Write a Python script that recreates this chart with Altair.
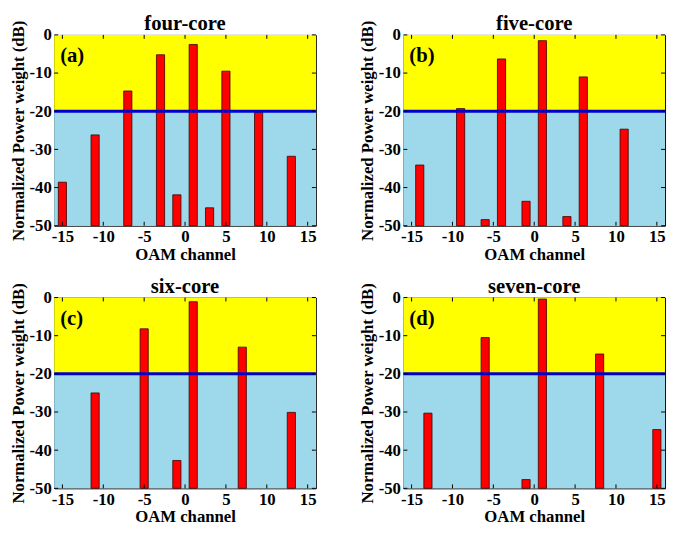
import altair as alt
import pandas as pd

# ---- data ----
titles = ["four-core", "five-core", "six-core", "seven-core"]
tags = ["(a)", "(b)", "(c)", "(d)"]
channels = [
    [-15, -11, -7, -3, -1, 1, 3, 5, 9, 13],
    [-14, -9, -6, -4, -1, 1, 4, 6, 11],
    [-11, -5, -1, 1, 7, 13],
    [-13, -6, -1, 1, 8, 15],
]
weights = [
    [-38.6, -26.2, -14.7, -5.2, -41.9, -2.5, -45.3, -9.5, -20.3, -31.8],
    [-34.1, -19.3, -48.4, -6.3, -43.6, -1.5, -47.6, -11.0, -24.7],
    [-25.0, -8.2, -42.7, -1.1, -13.0, -30.1],
    [-30.3, -10.5, -47.7, -0.4, -14.8, -34.6],
]
x_ticks = [-15, -10, -5, 0, 5, 10, 15]
y_ticks = [-50, -40, -30, -20, -10, 0]
x_limits = [-16, 16]
y_limits = [-50, 0]
threshold = -20
bar_half_width = 0.5

# ---- styling ----
W, H = 266, 194
FONT = "'Liberation Serif', 'Times New Roman', Times, serif"
YELLOW = "#FFFF00"
LIGHTBLUE = "#9DD9EA"
LINEBLUE = "#0000CC"
RED = "#FF0000"
TICK = 4

xs = alt.Scale(domain=x_limits, nice=False, zero=False)
ys = alt.Scale(domain=y_limits, nice=False, zero=False)
common_axis = dict(
    grid=False, ticks=False, domain=False, labelFlush=False, labelOverlap=False,
    labelFont=FONT, labelFontSize=17, labelFontWeight="bold", labelColor="black",
    labelPadding=3, format="d", labelSeparation=0,
    titleFont=FONT, titleFontSize=17, titleFontWeight="bold", titleColor="black",
    titlePadding=2,
)
xaxis = alt.Axis(values=x_ticks, title="OAM channel", **common_axis)
yaxis = alt.Axis(values=y_ticks, title="Normalized Power weight (dB)",
                 tickCount=len(y_ticks), **common_axis)


def xenc(field):
    return alt.X(field, type="quantitative", scale=xs, axis=xaxis)


def yenc(field):
    return alt.Y(field, type="quantitative", scale=ys, axis=yaxis)


def panel(i):
    bands = pd.DataFrame({
        "x0": [x_limits[0], x_limits[0]],
        "x1": [x_limits[1], x_limits[1]],
        "lo": [threshold, y_limits[0]],
        "hi": [y_limits[1], threshold],
        "zone": ["above", "below"],
    })
    bg = alt.Chart(bands).mark_rect().encode(
        x=xenc("x0"), x2="x1", y=yenc("lo"), y2="hi",
        color=alt.Color("zone:N", scale=alt.Scale(domain=["above", "below"],
                                                  range=[YELLOW, LIGHTBLUE]),
                        legend=None),
    )

    bars_df = pd.DataFrame({"ch": channels[i], "w": weights[i]})
    bars = alt.Chart(bars_df).transform_calculate(
        b0=f"datum.ch - {bar_half_width}",
        b1=f"datum.ch + {bar_half_width}",
        base=str(y_limits[0]),
    ).mark_bar(color=RED, stroke="#3a0000", strokeWidth=0.8).encode(
        x=xenc("b0"), x2="b1", y=yenc("w"), y2="base:Q",
    )

    line = alt.Chart(pd.DataFrame({"t": [threshold]})).mark_rule(
        color=LINEBLUE, strokeWidth=3
    ).encode(y=yenc("t"))

    xt = pd.DataFrame({"v": x_ticks})
    yt = pd.DataFrame({"v": y_ticks})
    tick_style = dict(color="black", strokeWidth=1)
    tb = alt.Chart(xt).mark_rule(**tick_style).encode(
        x=xenc("v"), y=alt.value(H), y2=alt.value(H - TICK))
    tt = alt.Chart(xt).mark_rule(**tick_style).encode(
        x=xenc("v"), y=alt.value(0), y2=alt.value(TICK))
    tl = alt.Chart(yt).mark_rule(**tick_style).encode(
        y=yenc("v"), x=alt.value(0), x2=alt.value(TICK))
    tr = alt.Chart(yt).mark_rule(**tick_style).encode(
        y=yenc("v"), x=alt.value(W - TICK), x2=alt.value(W))

    tag = alt.Chart(pd.DataFrame({"tag": [tags[i]]})).mark_text(
        font=FONT, fontSize=21, fontWeight="bold", align="left",
        baseline="middle", color="black"
    ).encode(x=alt.value(6), y=alt.value(H * 0.112), text="tag:N")

    head = alt.Chart(pd.DataFrame({"title": [titles[i]]})).mark_text(
        font=FONT, fontSize=21, fontWeight="bold", align="center",
        baseline="alphabetic", color="black"
    ).encode(x=alt.value(W / 2), y=alt.value(-5), text="title:N")

    return alt.layer(bg, bars, line, tb, tt, tl, tr, tag, head).properties(
        width=W, height=H,
    )


row1 = alt.hconcat(panel(0), panel(1), spacing=40)
row2 = alt.hconcat(panel(2), panel(3), spacing=40)
chart = alt.vconcat(row1, row2, spacing=12).properties(
    padding=0, background="white"
).configure_view(
    stroke="black", strokeWidth=1
)

chart.save("out.html", embed_options={
    "renderer": "svg", "actions": False,
    "formatLocale": {"decimal": ".", "thousands": ",", "grouping": [3],
                     "currency": ["$", ""], "minus": "-"},
})
